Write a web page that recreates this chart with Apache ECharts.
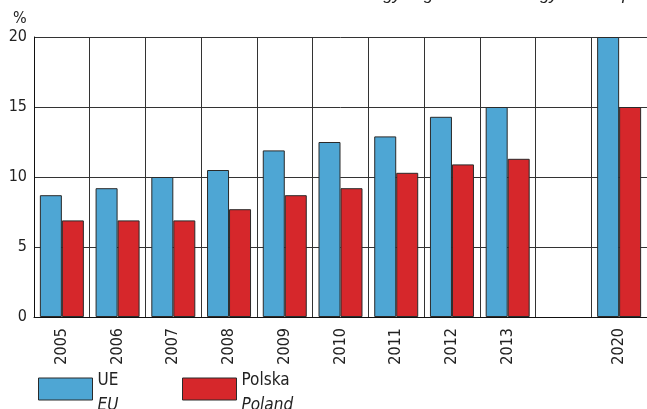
<!DOCTYPE html>
<html>
<head>
<meta charset="utf-8">
<script src="https://cdn.jsdelivr.net/npm/echarts@6/dist/echarts.min.js"></script>
<style>
html,body{margin:0;padding:0;background:#fff;}
#c{width:647px;height:409px;}
</style>
</head>
<body>
<div id="c"></div>
<script>
var categories = ['2005','2006','2007','2008','2009','2010','2011','2012','2013','','2020'];
var euValues = [8.7, 9.2, 10.0, 10.5, 11.9, 12.5, 12.9, 14.3, 15.0, null, 20.0];
var plValues = [6.9, 6.9, 6.9, 7.7, 8.7, 9.2, 10.3, 10.9, 11.3, null, 15.0];
var yTicks = [0, 5, 10, 15, 20];

var FONT = "'Liberation Sans Narrow', 'DejaVu Sans Condensed', 'Liberation Sans', sans-serif";
var BLUE = '#4ea6d4';
var RED = '#d6272b';
var EDGE = '#2a2a2a';

var legendRich = {
  s: {fontSize: 8, lineHeight: 8},
  a: {fontFamily: FONT, fontSize: 17, color: '#222', lineHeight: 25},
  b: {fontFamily: FONT, fontSize: 17, fontStyle: 'italic', color: '#222', lineHeight: 25}
};

var chart = echarts.init(document.getElementById('c'), null, {renderer: 'canvas'});
var option = {
  animation: false,
  backgroundColor: '#fff',
  title: {
    text: 'Share of renewable energy in gross final energy consumption',
    left: 192,
    top: -18,
    textStyle: {fontFamily: "'Liberation Sans', Arial, sans-serif", fontStyle: 'italic', fontWeight: 'normal', fontSize: 17, color: '#222'}
  },
  graphic: [{
    type: 'text',
    left: 13,
    top: 11,
    style: {text: '%', fontFamily: FONT, fontSize: 16, fill: '#222'}
  }],
  grid: {left: 34, right: 0, top: 37, bottom: 92, containLabel: false},
  legend: [{
    data: ['UE'],
    left: 33,
    top: 355,
    icon: 'rect',
    itemWidth: 54,
    itemHeight: 22,
    selectedMode: false,
    itemStyle: {borderColor: EDGE, borderWidth: 1},
    formatter: function () { return '{s| }\n{a|UE}\n{b|EU}'; },
    textStyle: {rich: legendRich}
  }, {
    data: ['Polska'],
    left: 177,
    top: 355,
    icon: 'rect',
    itemWidth: 54,
    itemHeight: 22,
    selectedMode: false,
    itemStyle: {borderColor: EDGE, borderWidth: 1},
    formatter: function () { return '{s| }\n{a|Polska}\n{b|Poland}'; },
    textStyle: {rich: legendRich}
  }],
  xAxis: {
    type: 'category',
    data: categories,
    boundaryGap: true,
    axisLine: {show: true, lineStyle: {color: '#111', width: 1}},
    axisTick: {show: false},
    axisLabel: {rotate: 90, interval: 0, margin: 11, fontFamily: FONT, fontSize: 16, color: '#222'},
    splitLine: {show: true, interval: 0, lineStyle: {color: '#333', width: 1}}
  },
  yAxis: {
    type: 'value',
    min: yTicks[0],
    max: yTicks[yTicks.length - 1],
    interval: 5,
    axisLine: {show: true, lineStyle: {color: '#111', width: 1}},
    axisTick: {show: false},
    axisLabel: {margin: 7, fontFamily: FONT, fontSize: 16, color: '#222'},
    splitLine: {show: true, lineStyle: {color: '#333', width: 1}}
  },
  series: [{
    name: 'UE',
    type: 'bar',
    data: euValues,
    barWidth: 22,
    barGap: '0%',
    itemStyle: {color: BLUE, borderColor: EDGE, borderWidth: 1}
  }, {
    name: 'Polska',
    type: 'bar',
    data: plValues,
    barWidth: 22,
    barGap: '0%',
    itemStyle: {color: RED, borderColor: EDGE, borderWidth: 1}
  }]
};
chart.setOption(option);
</script>
</body>
</html>
